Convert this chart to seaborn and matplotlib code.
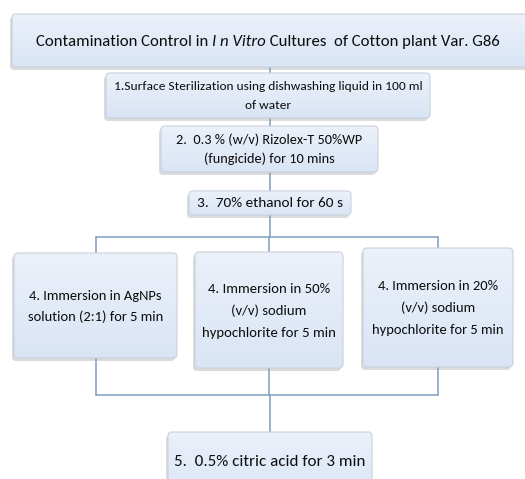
import matplotlib
matplotlib.use("Agg")
import matplotlib.pyplot as plt
import numpy as np
import pandas as pd
import seaborn as sns
from matplotlib.patches import FancyBboxPatch
from matplotlib.offsetbox import TextArea, HPacker, AnnotationBbox

# flowchart text
title_parts = ["Contamination Control in ", "I n Vitro", " Cultures  of Cotton plant Var. G86"]
step_labels = [
    "1.Surface Sterilization using dishwashing liquid in 100 ml\nof water",
    "2.  0.3 % (w/v) Rizolex-T 50%WP\n(fungicide) for 10 mins",
    "3.  70% ethanol for 60 s",
    "4. Immersion in AgNPs\nsolution (2:1) for 5 min",
    "4. Immersion in 50%\n(v/v) sodium\nhypochlorite for 5 min",
    "4. Immersion in 20%\n(v/v) sodium\nhypochlorite for 5 min",
    "5.  0.5% citric acid for 3 min",
]

# layout in pixels (x0, y0, x1, y1), y grows downward
title_box = (12, 14, 530, 67)
step_boxes = [
    (106, 73, 430, 118),
    (161, 126, 378, 172),
    (189, 191, 351, 215),
    (14, 253, 177, 358),
    (195, 252, 343, 368),
    (363, 248, 513, 367),
    (168, 432, 372, 500),
]
text_y = [96, 149, 203, 306, 311, 308, 462]
text_w = [310, 186, 146, 136, 134, 132, 192]
line_gap = [19, 19, 19, 21, 22, 22, 19]
title_w = 468

W, H = 525, 479
sns.set_theme(style="white")
plt.rcParams["font.family"] = ["Carlito", "Lato", "DejaVu Sans"]

fig = plt.figure(figsize=(W / 100, H / 100), dpi=100)
ax = fig.add_axes([0, 0, 1, 1])
ax.set_xlim(0, W)
ax.set_ylim(H, 0)
ax.axis("off")
renderer = fig.canvas.get_renderer()

grad = np.linspace(0, 1, 64).reshape(-1, 1)
top_c = np.array([0.925, 0.945, 0.98])
bot_c = np.array([0.85, 0.895, 0.96])
grad_img = top_c + (bot_c - top_c) * grad[..., None]


def draw_box(x0, y0, x1, y1):
    shadow = FancyBboxPatch((x0 - 2, y0 + 3), x1 - x0, y1 - y0,
                            boxstyle="round,pad=0,rounding_size=4",
                            fc="#9a9a9a", ec="none", alpha=0.35, zorder=1)
    ax.add_patch(shadow)
    patch = FancyBboxPatch((x0, y0), x1 - x0, y1 - y0,
                           boxstyle="round,pad=0,rounding_size=4",
                           fc="none", ec="#c9d2de", lw=0.8, zorder=3)
    ax.add_patch(patch)
    im = ax.imshow(grad_img, extent=(x0, x1, y1, y0), aspect="auto", zorder=2)
    im.set_clip_path(patch)


def fit_size(text, target, **kw):
    t = ax.text(0, 0, text, fontsize=10, **kw)
    w = t.get_window_extent(renderer).width
    t.remove()
    return 10 * target / w


# connectors
segs = []
cx = (step_boxes[2][0] + step_boxes[2][2]) / 2
segs.append([(cx, title_box[3]), (cx, step_boxes[0][1])])
segs.append([(cx, step_boxes[0][3]), (cx, step_boxes[1][1])])
segs.append([(cx, step_boxes[1][3]), (cx, step_boxes[2][1])])
bus_top, bus_bot = 237, 395
segs.append([(cx, step_boxes[2][3]), (cx, bus_top)])
centers = [(b[0] + b[2]) / 2 for b in step_boxes[3:6]]
segs.append([(centers[0], bus_top), (centers[2], bus_top)])
segs.append([(centers[0], bus_bot), (centers[2], bus_bot)])
for c, b in zip(centers, step_boxes[3:6]):
    segs.append([(c, bus_top), (c, b[1])])
    segs.append([(c, b[3]), (c, bus_bot)])
c5 = (step_boxes[6][0] + step_boxes[6][2]) / 2
segs.append([(c5, bus_bot), (c5, step_boxes[6][1])])
rows = [(i, x, y) for i, s in enumerate(segs) for (x, y) in s]
df = pd.DataFrame(rows, columns=["seg", "x", "y"])
sns.lineplot(data=df, x="x", y="y", units="seg", estimator=None, sort=False,
             color="#7f9cc2", lw=1.1, ax=ax, zorder=0.5)
ax.set_xlim(0, W)
ax.set_ylim(H, 0)
ax.axis("off")

# title box
draw_box(*title_box)
fs_t = fit_size("".join(title_parts), title_w)
areas = [TextArea(p, textprops=dict(fontsize=fs_t, color="#0d0d0d",
                                      style="italic" if i == 1 else "normal"))
         for i, p in enumerate(title_parts)]
pack = HPacker(children=areas, pad=0, sep=0, align="baseline")
ab = AnnotationBbox(pack, (268, 42), frameon=False, box_alignment=(0.5, 0.5), zorder=5)
ax.add_artist(ab)

# step boxes
for lab, box, ty, tw, gap in zip(step_labels, step_boxes, text_y, text_w, line_gap):
    draw_box(*box)
    lines = lab.split("\n")
    fs = fit_size(max(lines, key=len), tw)
    n = len(lines)
    for i, line in enumerate(lines):
        ax.text((box[0] + box[2]) / 2, ty + (i - (n - 1) / 2) * gap, line,
                fontsize=fs, color="#0d0d0d", ha="center", va="center", zorder=5)

fig.savefig("out.png", dpi=100)
